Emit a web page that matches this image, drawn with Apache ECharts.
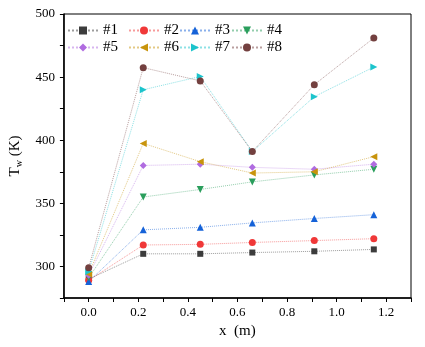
<!DOCTYPE html>
<html>
<head>
<meta charset="utf-8">
<script src="https://cdn.jsdelivr.net/npm/echarts@6/dist/echarts.min.js"></script>
<style>
	html, body { margin: 0; padding: 0; background: #fff; }
	#chart { width: 425px; height: 347px; }
</style>
</head>
<body>
<div id="chart"></div>
<script>
// 量測位置 x (m)
var xPos = [0, 0.22, 0.45, 0.66, 0.91, 1.15];
// 各工況壁溫 Tw (K)
var t1 = [290, 310, 310, 311, 312, 313.5];
var t2 = [289, 317, 317.5, 319, 320.5, 322];
var t3 = [288, 329, 331, 334.5, 338, 341];
var t4 = [291, 355, 361, 367, 372.5, 377];
var t5 = [293, 380, 381, 378.5, 377, 381];
var t6 = [294, 397.5, 383, 374, 375, 387];
var t7 = [296, 440, 450.5, 391, 434.5, 458];
var t8 = [299, 457.5, 447, 391, 444, 481];

var names = ["#1", "#2", "#3", "#4", "#5", "#6", "#7", "#8"];
var values = [t1, t2, t3, t4, t5, t6, t7, t8];
var colors = ["#3c3c3c", "#f03838", "#1562d8", "#2a9e5c", "#b06ce0", "#c8940c", "#1cc4cc", "#73403f"];
var symbols = ["rect", "circle", "triangle", "triangle", "diamond", "triangle", "triangle", "circle"];
var rotates = [0, 0, 0, 180, 0, 90, -90, 0];

var serif = "Liberation Serif";

function Line(dom) {
	var myChart = echarts.init(dom, null, {
		renderer: "canvas",
		useDirtyRect: false
	});

	var series = names.map(function (n, i) {
		return {
			name: n,
			type: "line",
			symbol: symbols[i],
			symbolSize: symbols[i] === "rect" ? 6 : 7,
			symbolRotate: rotates[i],
			itemStyle: { color: colors[i], opacity: 1 },
			lineStyle: { color: colors[i], type: "dotted", width: 1, opacity: 0.5 },
			data: xPos.map(function (x, k) {
				return [x, values[i][k]];
			})
		};
	});

	// 圖例分四欄
	var cols = [["#1", "#5"], ["#2", "#6"], ["#3", "#7"], ["#4", "#8"]];
	var lefts = [62, 123, 174, 226];
	var legend = cols.map(function (c, i) {
		return {
			data: c,
			orient: "vertical",
			left: lefts[i],
			top: 18,
			itemWidth: 30,
			itemHeight: 10,
			itemGap: 2,
			textStyle: {
				fontFamily: serif,
				fontSize: 15,
				color: "#000"
			}
		};
	});

	var option = {
		animation: false,
		legend: legend,
		grid: {
			left: 58,
			right: 14,
			top: 14,
			bottom: 49,
			show: true,
			borderColor: "#000",
			borderWidth: 1
		},
		xAxis: {
			type: "value",
			min: -0.1,
			max: 1.3,
			interval: 0.1,
			name: "x  (m)",
			nameLocation: "middle",
			nameGap: 26,
			nameTextStyle: { fontFamily: serif, fontSize: 15, color: "#000" },
			axisLine: { onZero: false, lineStyle: { color: "#000", width: 1.5 } },
			axisTick: { inside: false, length: 4, lineStyle: { color: "#000" } },
			splitLine: { show: false },
			axisLabel: {
				margin: 8,
				fontFamily: serif,
				fontSize: 13,
				color: "#000",
				formatter: function (v) {
					var k = Math.round(v * 10);
					return k % 2 === 0 && k >= 0 && k <= 12 ? (k / 10).toFixed(1) : "";
				}
			}
		},
		yAxis: {
			type: "value",
			min: 275,
			max: 500,
			interval: 25,
			name: "{a|T}{b|w}{a| (K)}",
			nameLocation: "middle",
			nameGap: 36,
			nameTextStyle: {
				rich: {
					a: { fontFamily: serif, fontSize: 15, color: "#000", lineHeight: 18 },
					b: { fontFamily: serif, fontSize: 10, color: "#000", lineHeight: 12, verticalAlign: "bottom" }
				}
			},
			axisLine: { show: true, onZero: false, lineStyle: { color: "#000", width: 1.5 } },
			axisTick: { show: true, inside: false, length: 4, lineStyle: { color: "#000" } },
			splitLine: { show: false },
			axisLabel: {
				margin: 9,
				fontFamily: serif,
				fontSize: 13,
				color: "#000",
				formatter: function (v) {
					return v % 50 === 0 ? String(v) : "";
				}
			}
		},
		series: series
	};
	myChart.setOption(option);
	window.addEventListener("resize", myChart.resize);
}

Line(document.getElementById("chart"));
</script>
</body>
</html>
